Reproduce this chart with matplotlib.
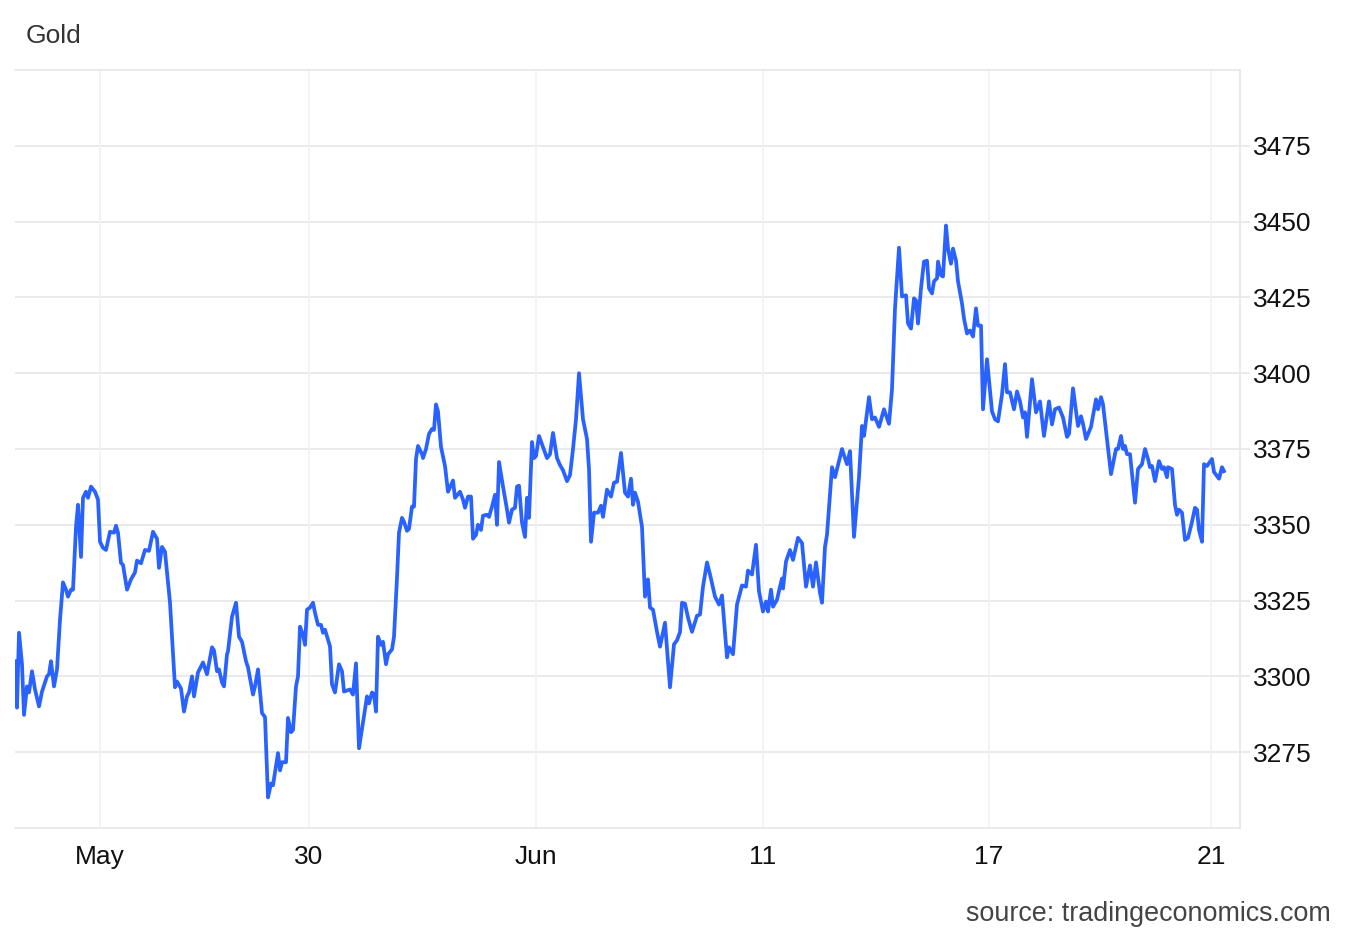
import matplotlib.pyplot as plt

# time steps (chart x units) and gold price
t = [0, 2, 4, 7, 9, 12, 14, 17, 20, 24, 27, 32, 34, 36, 39, 42, 45, 48, 51, 53, 56, 58,
     61, 63, 66, 68, 71, 73, 76, 80, 83, 85, 88, 91, 95, 99, 101, 103, 106, 108, 112, 116,
     120, 122, 126, 130, 134, 138, 142, 144, 147, 150, 155, 160, 162, 166, 169, 172, 174,
     177, 179, 183, 188, 192, 197, 199, 202, 204, 207, 209, 212, 213, 217, 221, 224, 227,
     231, 233, 238, 240, 243, 247, 250, 253, 256, 258, 263, 265, 267, 271, 273, 276, 278,
     281, 283, 285, 288, 290, 292, 295, 298, 300, 303, 306, 308, 310, 315, 317, 320, 324,
     327, 329, 335, 338, 341, 344, 348, 352, 354, 357, 359, 361, 363, 366, 368, 371, 373,
     377, 379, 382, 384, 387, 389, 392, 394, 397, 399, 401, 403, 407, 408, 411, 414, 417,
     419, 421, 423, 426, 430, 433, 438, 440, 445, 448, 450, 453, 456, 458, 461, 463, 466,
     468, 472, 474, 477, 480, 482, 484, 488, 492, 494, 497, 500, 502, 504, 507, 510, 512,
     514, 517, 519, 521, 524, 528, 532, 535, 538, 542, 545, 548, 552, 555, 558, 561, 564,
     568, 572, 574, 576, 579, 583, 586, 588, 592, 596, 599, 602, 606, 610, 613, 616, 618,
     620, 623, 627, 630, 633, 635, 638, 642, 645, 650, 655, 659, 662, 665, 667, 670, 673,
     677, 682, 685, 688, 692, 695, 700, 704, 707, 712, 714, 718, 722, 727, 731, 733, 737,
     741, 744, 748, 751, 753, 756, 758, 762, 765, 767, 768, 771, 775, 778, 783, 787, 791,
     795, 798, 801, 805, 807, 810, 812, 817, 820, 827, 832, 835, 839, 844, 847, 849, 854,
     857, 860, 864, 869, 874, 877, 880, 884, 887, 891, 893, 896, 899, 901, 903, 906, 909,
     912, 914, 917, 919, 922, 923, 926, 928, 931, 933, 936, 938, 941, 943, 947, 949, 952,
     955, 958, 961, 963, 966, 968, 972, 977, 980, 983, 987, 990, 992, 995, 999, 1002, 1005,
     1008, 1010, 1012, 1017, 1021, 1025, 1029, 1034, 1037, 1040, 1044, 1048, 1052, 1054,
     1058, 1063, 1066, 1068, 1071, 1076, 1081, 1083, 1086, 1088, 1092, 1096, 1098, 1101,
     1103, 1106, 1108, 1110, 1112, 1115, 1120, 1123, 1127, 1130, 1133, 1135, 1137, 1140,
     1144, 1147, 1149, 1152, 1153, 1157, 1160, 1162, 1164, 1167, 1170, 1173, 1177, 1180,
     1182, 1184, 1187, 1189, 1192, 1197, 1199, 1204, 1207, 1209]
price = [3305, 3289.7, 3314.4, 3304, 3287.3, 3296.7, 3294.7, 3301.7, 3295.7, 3290.1, 3295,
         3300, 3300.7, 3305, 3296.7, 3302.3, 3318.7, 3331, 3328.6, 3326.3, 3328.6, 3328.6,
         3349.3, 3356.6, 3339.4, 3358.9, 3360.9, 3358.9, 3362.6, 3360.9, 3358.3, 3344.4,
         3342.4, 3341.7, 3347.7, 3347.4, 3349.7, 3347.4, 3337.4, 3336.8, 3328.6, 3332,
         3334.3, 3338.2, 3337.3, 3341.7, 3341.4, 3347.7, 3345.4, 3335.8, 3342.7, 3341.1,
         3324.3, 3296.4, 3298.3, 3296, 3288.4, 3293.4, 3294.7, 3300, 3293.4, 3301.3, 3304.6,
         3300.7, 3309.6, 3308.6, 3301.7, 3302.3, 3298, 3296.7, 3307.3, 3308.3, 3319.7,
         3324.3, 3313.1, 3311.4, 3305, 3303, 3294, 3296.7, 3302.3, 3287.9, 3286.6, 3260.1,
         3264.7, 3264.1, 3274.7, 3269, 3271.7, 3271.7, 3286.3, 3281.6, 3282.3, 3296.7, 3300,
         3316.4, 3313.7, 3310.4, 3322, 3322.7, 3324.3, 3321, 3317, 3317, 3314.4, 3315.4,
         3309.9, 3297.4, 3294.7, 3304, 3301.7, 3295, 3295.7, 3294, 3304.3, 3276.3, 3284.9,
         3293.4, 3291.1, 3294.7, 3294, 3288.4, 3313.1, 3310.4, 3311.4, 3304, 3307.3, 3308.9,
         3313.1, 3332.6, 3347.4, 3352.3, 3351, 3348, 3348.7, 3356, 3356, 3371.7, 3376,
         3373.3, 3372, 3375, 3380, 3381.6, 3381.3, 3389.7, 3387.4, 3375.7, 3369.4, 3360.9,
         3364.6, 3358.9, 3360.9, 3358.3, 3355.6, 3359.3, 3359.3, 3345.4, 3346.7, 3350,
         3348.3, 3353, 3353.3, 3352.6, 3356, 3359.9, 3350, 3370.7, 3362.6, 3355, 3350.7,
         3355, 3355.6, 3362.6, 3362.9, 3350.7, 3346, 3358.9, 3352.3, 3377.3, 3372, 3372.7,
         3379.3, 3375.7, 3372, 3373.3, 3380.3, 3372, 3369.7, 3368, 3364.4, 3366.4, 3375,
         3384.8, 3400, 3384.8, 3378.3, 3368.4, 3344.4, 3354, 3354, 3356.3, 3352.6, 3361.6,
         3359.3, 3363.9, 3364.2, 3373.7, 3360.6, 3359.3, 3365.2, 3356.6, 3360.6, 3357.6,
         3349.3, 3326.3, 3332, 3322.7, 3322, 3314.7, 3309.8, 3317.7, 3296.4, 3310.6, 3311.9,
         3314.6, 3324.3, 3324, 3319.4, 3314.7, 3320, 3320.4, 3329.6, 3337.6, 3333.6, 3326.3,
         3323.7, 3326.7, 3306.3, 3309.6, 3307.3, 3323.7, 3330, 3329.6, 3334.9, 3333.6,
         3343.4, 3328, 3321.4, 3324.7, 3321.4, 3328.6, 3323, 3325.3, 3329.6, 3332.3, 3329,
         3337.9, 3341.7, 3338.4, 3345.7, 3344, 3329.6, 3336.6, 3329.6, 3337.6, 3327.6,
         3324.3, 3342.7, 3346.7, 3369, 3365.7, 3375, 3370, 3374.3, 3346, 3365.7, 3382.6,
         3379.3, 3392.1, 3384.8, 3385.4, 3382.3, 3388.1, 3383.3, 3394.7, 3421.4, 3441.4,
         3425.3, 3425.7, 3416.4, 3414.7, 3424.7, 3424, 3416.4, 3428, 3436.8, 3437.1, 3428,
         3426.3, 3430.3, 3431.3, 3436.8, 3432.3, 3431.9, 3448.7, 3441.1, 3436.1, 3441.1,
         3437.1, 3430.3, 3423, 3418, 3413.1, 3414.1, 3412.1, 3421.4, 3415.7, 3415.7, 3388.1,
         3404.6, 3387.4, 3384.8, 3384.1, 3393, 3403, 3393.7, 3393.7, 3388.1, 3394, 3390.7,
         3385.4, 3387.1, 3379, 3398, 3387.1, 3390.7, 3379.3, 3390.7, 3383.1, 3388.1, 3388.7,
         3385.4, 3379, 3380, 3395, 3382.6, 3385.8, 3383.3, 3378.3, 3382.3, 3391.4, 3388.1,
         3392.1, 3389.7, 3378.3, 3366.7, 3370, 3375, 3375, 3379.3, 3375, 3376, 3373.3,
         3373.3, 3357.3, 3368.4, 3370, 3375, 3371.7, 3369, 3369.4, 3364.4, 3371, 3368.4,
         3369, 3365.7, 3369, 3368.4, 3356.6, 3353.3, 3355, 3354, 3345, 3345.7, 3351, 3355.6,
         3355, 3348.3, 3344.4, 3370, 3369.4, 3371.7, 3367.4, 3365.2, 3369, 3367.7]

tick_pos = [85, 294, 521, 748, 974, 1196]
tick_labels = ['May', '30', 'Jun', '11', '17', '21']
y_ticks = [3275, 3300, 3325, 3350, 3375, 3400, 3425, 3450, 3475]

plt.rcParams['font.family'] = ['Liberation Sans', 'DejaVu Sans']

fig = plt.figure(figsize=(13.5, 9.36), dpi=100)
ax = fig.add_axes([15 / 1350, 1 - 828 / 936, 1225 / 1350, 758 / 936])

ax.plot(t, price, color='#2962ff', linewidth=2.7, solid_joinstyle='round', zorder=3)

ax.set_xlim(0, 1225)
ax.set_ylim(3250, 3500)

# grid
for v in y_ticks:
    ax.axhline(v, color='#e6e6e6', linewidth=1.2, zorder=1)
for p in tick_pos:
    ax.axvline(p, color='#edf1f6', linewidth=1.2, zorder=1)

ax.set_xticks(tick_pos)
ax.set_xticklabels(tick_labels)
ax.set_yticks(y_ticks)
ax.yaxis.tick_right()
ax.tick_params(axis='x', length=0, pad=12, labelsize=19, labelcolor='#111111')
ax.tick_params(axis='y', length=7, width=1.2, color='#e6e6e6', pad=2,
               labelsize=19, labelcolor='#111111')

ax.spines['left'].set_visible(False)
for s in ['top', 'bottom', 'right']:
    ax.spines[s].set_color('#e6e6e6')
    ax.spines[s].set_linewidth(1.2)

fig.text(26 / 1350, 1 - 36 / 936, 'Gold', fontsize=19, color='#333333', va='center')
fig.text(1331 / 1350, 1 - 914 / 936, 'source: tradingeconomics.com', fontsize=19.4,
         color='#444444', ha='right', va='center')

plt.savefig('out.png', dpi=100)
